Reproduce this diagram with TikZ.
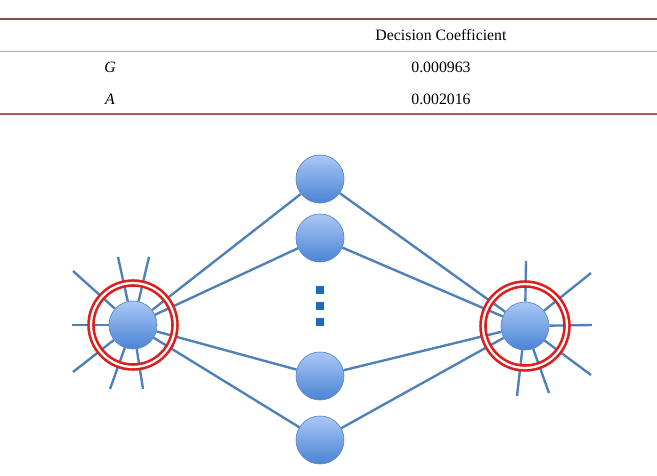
\documentclass[tikz,border=0pt]{standalone}
\usepackage{fontspec}
\setmainfont{Liberation Serif}
\definecolor{rulered}{HTML}{8E4B48}
\definecolor{rulepink}{HTML}{C9A7AE}
\definecolor{rulebot}{HTML}{A85A58}
\definecolor{capred}{HTML}{8A2E2A}
\definecolor{edgeblue}{HTML}{5080B8}
\definecolor{ballrim}{HTML}{5C88C8}
\definecolor{balltop}{HTML}{AAC8F6}
\definecolor{ballbot}{HTML}{4A83D4}
\definecolor{dotblue}{HTML}{1B6DC2}
\definecolor{ringred}{HTML}{DD1E1E}

\begin{document}
\begin{tikzpicture}[x=0.02cm, y=-0.02cm,
  every node/.style={font=\fontsize{9}{11}\selectfont},
  ball/.style={circle, draw=ballrim, line width=0.4pt, top color=balltop, bottom color=ballbot, minimum size=0.96cm, inner sep=0pt},
  ring/.style={circle, draw=ringred, line width=1.5pt, double=white, double distance=1.3pt, minimum size=1.68cm, inner sep=0pt},
  dotsq/.style={fill=dotblue, minimum size=4pt, inner sep=0pt},
  ln/.style={draw=edgeblue, line width=1.35pt},
  rl/.style={line width=0.8pt}]
\useasboundingbox (0,0) rectangle (657,476);

% ---------------- table ----------------
\node[anchor=base west, text=capred] (cap) at (2,-3) {\textbf{Table 3.} Coefficient of determination in linear regression};
\coordinate (r1a) at (0,19);  \coordinate (r1b) at (657,19);
\coordinate (r2a) at (0,51);  \coordinate (r2b) at (657,51);
\coordinate (r3a) at (0,114); \coordinate (r3b) at (657,114);
\draw[rl, draw=rulered] (r1a) -- (r1b);
\draw[rl, draw=rulepink, line width=0.5pt] (r2a) -- (r2b);
\draw[rl, draw=rulebot] (r3a) -- (r3b);

\node (head) at (441,35) {Decision Coefficient};
\node (lg) at (110,67) {\textit{G}};
\node (vg) at (441,67) {0.000963};
\node (la) at (110,99) {\textit{A}};
\node (va) at (441,99) {0.002016};

% ---------------- hubs and hidden units ----------------
\node[ball] (hubL) at (133,325) {};
\node[ball] (hubR) at (525,326) {};
\node[ball] (m1) at (320,179) {};
\node[ball] (m2) at (320,238) {};
\node[ball] (m3) at (320,376) {};
\node[ball] (m4) at (320,440) {};

\node[dotsq] (d1) at (320,290) {};
\node[dotsq] (d2) at (320,306) {};
\node[dotsq] (d3) at (320,322) {};

% ---------------- loose spokes ----------------
\coordinate (sL1) at (73,271);
\coordinate (sL2) at (118,257);
\coordinate (sL3) at (149,257);
\coordinate (sL4) at (72,325);
\coordinate (sL5) at (73,372);
\coordinate (sL6) at (110,389);
\coordinate (sL7) at (143,389);
\coordinate (sR1) at (526,261);
\coordinate (sR2) at (591,273);
\coordinate (sR3) at (592,325);
\coordinate (sR4) at (591,375);
\coordinate (sR5) at (517,396);
\coordinate (sR6) at (549,393);

\foreach \s in {1,...,7}{
  \draw[ln] (hubL) -- (sL\s);
}
\foreach \s in {1,...,6}{
  \draw[ln] (hubR) -- (sR\s);
}

% ---------------- connections ----------------
\foreach \m in {1,2,3,4}{
  \draw[ln] (hubL) -- (m\m);
  \draw[ln] (m\m) -- (hubR);
}

% ---------------- red rings ----------------
\node[ring] (ringL) at (hubL) {};
\node[ring] (ringR) at (hubR) {};
\end{tikzpicture}
\end{document}
